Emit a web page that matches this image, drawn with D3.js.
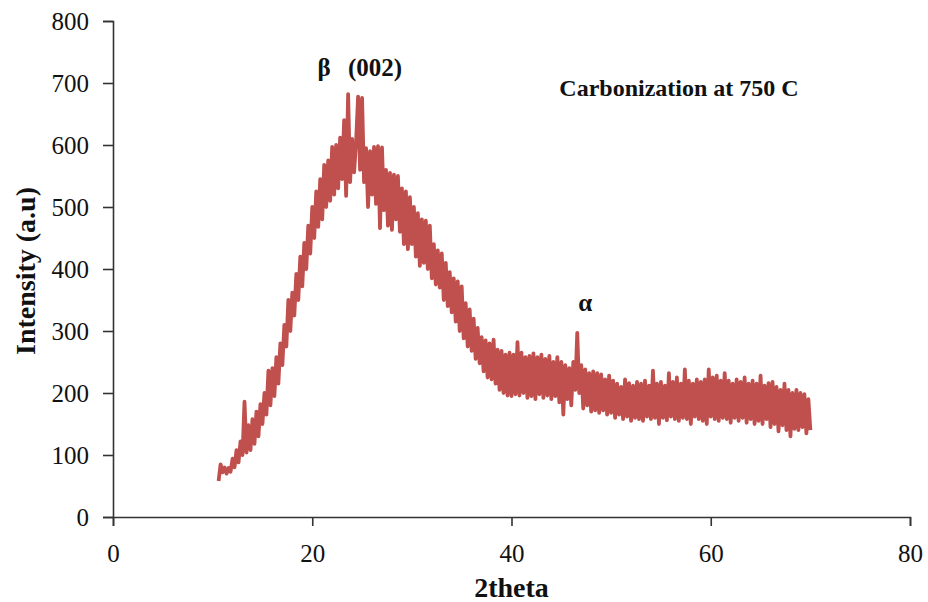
<!DOCTYPE html>
<html>
<head>
<meta charset="utf-8">
<script src="https://cdn.jsdelivr.net/npm/d3@7"></script>
<style>
  body { margin: 0; background: #fff; }
  svg { display: block; }
  text { font-family: "Liberation Serif", "Times New Roman", serif; }
</style>
</head>
<body>
<svg id="chart"></svg>
<script>
// XRD scan, 2theta grid from 10.6 to 70.0 in 0.2 deg steps
const scanStart = 10.6;
const scanStep = 0.2;
const intensity = [
  58, 85, 72, 80, 70, 79, 73, 94, 80, 108,
  88, 122, 100, 186, 104, 148, 108, 158, 118, 170,
  130, 182, 150, 200, 165, 236, 180, 240, 195, 258,
  215, 280, 245, 310, 275, 350, 300, 362, 325, 392,
  350, 420, 372, 442, 400, 470, 425, 500, 450, 525,
  468, 545, 480, 568, 500, 575, 510, 597, 520, 600,
  530, 612, 545, 640, 518, 682, 540, 610, 556, 605,
  678, 560, 676, 540, 595, 500, 590, 520, 597, 505,
  598, 466, 596, 495, 560, 470, 555, 463, 552, 480,
  550, 460, 530, 440, 525, 432, 516, 440, 500, 420,
  490, 405, 480, 410, 478, 400, 470, 385, 440, 375,
  430, 370, 425, 350, 410, 340, 395, 330, 385, 315,
  380, 300, 372, 288, 345, 275, 335, 268, 320, 255,
  305, 248, 290, 235, 285, 225, 280, 222, 286, 215,
  270, 205, 268, 200, 262, 196, 265, 195, 262, 198,
  282, 196, 265, 200, 258, 192, 260, 195, 264, 190,
  258, 198, 262, 192, 255, 196, 260, 190, 250, 195,
  258, 185, 250, 165, 245, 190, 240, 180, 250, 205,
  297, 200, 245, 175, 238, 180, 232, 170, 235, 172,
  232, 168, 230, 172, 222, 165, 228, 168, 220, 160,
  215, 165, 210, 158, 222, 162, 216, 155, 212, 160,
  218, 158, 215, 155, 220, 162, 212, 158, 236, 160,
  215, 150, 218, 160, 212, 156, 232, 162, 218, 158,
  225, 155, 215, 160, 238, 158, 220, 150, 215, 162,
  222, 158, 218, 155, 222, 150, 238, 162, 225, 158,
  228, 155, 220, 160, 232, 158, 220, 152, 215, 160,
  222, 155, 218, 160, 225, 152, 215, 158, 220, 150,
  215, 155, 228, 150, 212, 158, 216, 145, 218, 150,
  210, 138, 205, 148, 215, 140, 205, 130, 200, 142,
  205, 140, 200, 145, 198, 135, 190, 140
];
const xTicks = [0, 20, 40, 60, 80];
const yTicks = [0, 100, 200, 300, 400, 500, 600, 700, 800];
const annotations = [
  { label: "β", x: 21.2, y: 711 },
  { label: "(002)", x: 26.3, y: 711 },
  { label: "α", x: 47.4, y: 332 }
];
const title = "Carbonization at 750 C";

const width = 928, height = 602;
const margin = { top: 21, right: 18, bottom: 85, left: 113 };

const svg = d3.select("#chart").attr("width", width).attr("height", height);

const x = d3.scaleLinear().domain([0, 80]).range([margin.left, width - margin.right]);
const y = d3.scaleLinear().domain([0, 800]).range([height - margin.bottom, margin.top]);

const points = intensity.map((v, i) => [scanStart + i * scanStep, v]);

svg.append("path")
  .datum(points)
  .attr("fill", "none")
  .attr("stroke", "#c0504d")
  .attr("stroke-width", 3.8)
  .attr("stroke-linejoin", "round")
  .attr("d", d3.line().x((d) => x(d[0])).y((d) => y(d[1])));

const xAxis = svg.append("g")
  .attr("transform", `translate(0,${y(0)})`)
  .call(d3.axisBottom(x).tickValues(xTicks).tickSize(9).tickPadding(18));

const yAxis = svg.append("g")
  .attr("transform", `translate(${x(0)},0)`)
  .call(d3.axisLeft(y).tickValues(yTicks).tickSize(10).tickPadding(14));

[xAxis, yAxis].forEach((g) => {
  g.select(".domain").attr("stroke", "#333").attr("stroke-width", 1.6);
  g.selectAll(".tick line").attr("stroke", "#333").attr("stroke-width", 1.6);
  g.selectAll(".tick text")
    .attr("fill", "#111")
    .attr("font-size", 25)
    .style("font-family", "'Liberation Serif', serif");
});

svg.append("text")
  .attr("x", (x(0) + x(80)) / 2)
  .attr("y", 597)
  .attr("text-anchor", "middle")
  .attr("font-size", 28)
  .attr("font-weight", "bold")
  .attr("fill", "#111")
  .text("2theta");

svg.append("text")
  .attr("transform", `translate(35,${(y(0) + y(800)) / 2 + 2}) rotate(-90)`)
  .attr("text-anchor", "middle")
  .attr("font-size", 28)
  .attr("font-weight", "bold")
  .attr("fill", "#111")
  .text("Intensity (a.u)");

svg.selectAll(".annot")
  .data(annotations)
  .join("text")
  .attr("class", "annot")
  .attr("x", (d) => x(d.x))
  .attr("y", (d) => y(d.y))
  .attr("text-anchor", "middle")
  .attr("font-size", 25)
  .attr("font-weight", "bold")
  .attr("fill", "#111")
  .text((d) => d.label);

svg.append("text")
  .attr("x", x(44.8))
  .attr("y", 96)
  .attr("font-size", 24)
  .attr("font-weight", "bold")
  .attr("fill", "#111")
  .text(title);
</script>
</body>
</html>
